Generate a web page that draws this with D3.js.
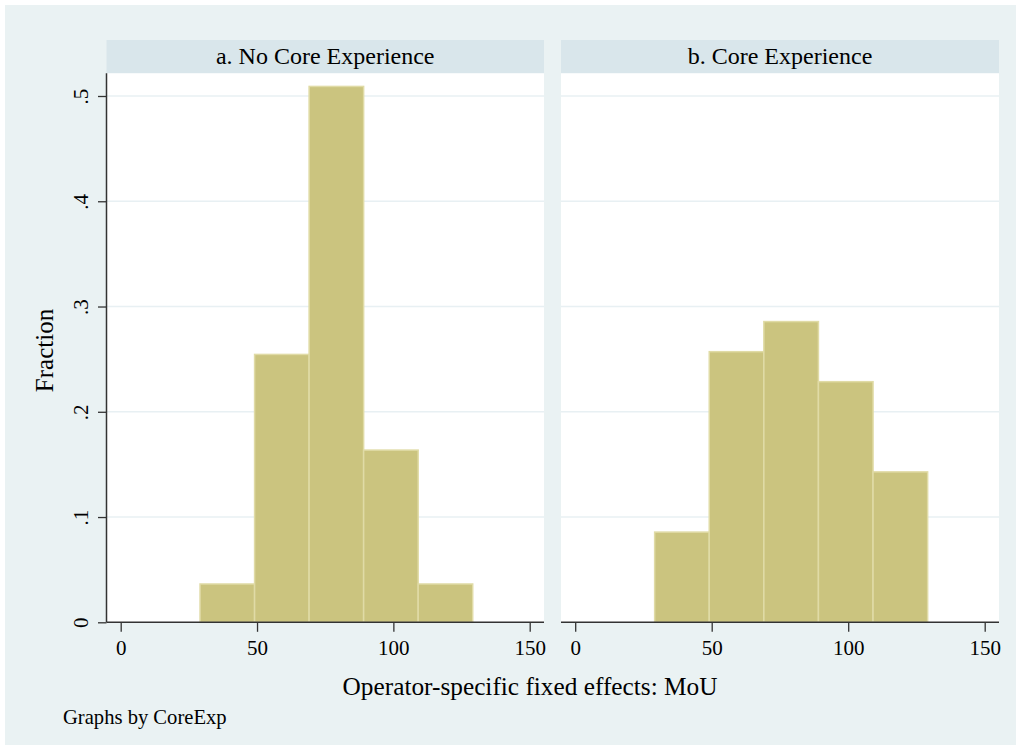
<!DOCTYPE html>
<html>
<head>
<meta charset="utf-8">
<script src="https://cdn.jsdelivr.net/npm/d3@7"></script>
<style>
  body { margin: 0; background: #fff; }
  text { font-family: 'Liberation Serif', 'Times New Roman', serif; fill: #000; }
</style>
</head>
<body>
<svg id="chart" width="1021" height="750"></svg>
<script>
// histogram bins (operator-specific fixed effects: MoU)
const binEdges = [29.1, 49.1, 69.1, 89.1, 109.1, 129.1];
const panelTitles = ['a. No Core Experience', 'b. Core Experience'];
const noCoreFractions = [0.0364, 0.2545, 0.5091, 0.1636, 0.0364];
const coreFractions = [0.0857, 0.2571, 0.2857, 0.2286, 0.1429];
const xTicks = [0, 50, 100, 150];
const yTicks = [0, 0.1, 0.2, 0.3, 0.4, 0.5];
const yTickLabels = ['0', '.1', '.2', '.3', '.4', '.5'];

const width = 1021;
const height = 750;
const barFill = '#cbc47f';
const barStroke = '#e0dba6';

const svg = d3.select('#chart');

// outer graph region
svg
  .append('rect')
  .attr('x', 5)
  .attr('y', 5)
  .attr('width', width - 10)
  .attr('height', height - 10)
  .attr('fill', '#eaf2f3');

const panels = [
  { x0: 106.5, x1: 544, title: panelTitles[0], values: noCoreFractions, yAxis: true },
  { x0: 561, x1: 999, title: panelTitles[1], values: coreFractions, yAxis: false },
];

const headerTop = 40;
const plotTop = 73.3;
const plotBottom = 622.3;

const y = d3.scaleLinear().domain([0, 0.5]).range([plotBottom, 96]);

panels.forEach((p) => {
  const x = d3
    .scaleLinear()
    .domain([0, 150])
    .range([p.x0 + 14.2, p.x1 - 14.3]);

  const g = svg.append('g');

  // header strip
  g.append('rect')
    .attr('x', p.x0)
    .attr('y', headerTop)
    .attr('width', p.x1 - p.x0)
    .attr('height', plotTop - headerTop)
    .attr('fill', '#d9e6eb');

  g.append('text')
    .attr('x', (p.x0 + p.x1) / 2)
    .attr('y', 64)
    .attr('text-anchor', 'middle')
    .style('font-size', '24px')
    .text(p.title);

  // plot region
  g.append('rect')
    .attr('x', p.x0)
    .attr('y', plotTop)
    .attr('width', p.x1 - p.x0)
    .attr('height', plotBottom - plotTop)
    .attr('fill', '#fff');

  // grid
  g.append('g')
    .selectAll('line')
    .data(yTicks.slice(1))
    .join('line')
    .attr('x1', p.x0)
    .attr('x2', p.x1)
    .attr('y1', (d) => y(d))
    .attr('y2', (d) => y(d))
    .attr('stroke', '#e8f0f3')
    .attr('stroke-width', 1.5);

  // bars
  g.append('g')
    .selectAll('rect')
    .data(p.values)
    .join('rect')
    .attr('x', (d, i) => x(binEdges[i]))
    .attr('width', (d, i) => x(binEdges[i + 1]) - x(binEdges[i]))
    .attr('y', (d) => y(d))
    .attr('height', (d) => y(0) - y(d))
    .attr('fill', barFill)
    .attr('stroke', barStroke)
    .attr('stroke-width', 1.5);

  // x axis
  const xAxis = g
    .append('g')
    .attr('transform', `translate(0,${plotBottom})`)
    .call(d3.axisBottom(x).tickValues(xTicks).tickSize(9.5).tickPadding(8));
  xAxis.select('.domain').remove();
  xAxis.selectAll('line').attr('stroke', '#333').attr('stroke-width', 1.3);
  xAxis.selectAll('text').style('font-size', '21px').attr('fill', '#000');

  g.append('line')
    .attr('x1', p.x0)
    .attr('x2', p.x1)
    .attr('y1', plotBottom)
    .attr('y2', plotBottom)
    .attr('stroke', '#333')
    .attr('stroke-width', 1.5);

  if (p.yAxis) {
    const yAxis = g
      .append('g')
      .attr('transform', `translate(${p.x0},0)`)
      .call(
        d3
          .axisLeft(y)
          .tickValues(yTicks)
          .tickFormat((d, i) => yTickLabels[i])
          .tickSize(8.5)
      );
    yAxis.select('.domain').remove();
    yAxis.selectAll('line').attr('stroke', '#333').attr('stroke-width', 1.3);
    yAxis
      .selectAll('text')
      .attr('transform', 'rotate(-90)')
      .attr('x', 0)
      .attr('y', -18.5)
      .attr('dy', 0)
      .attr('text-anchor', 'middle')
      .attr('fill', '#000')
      .style('font-size', '21px');

    g.append('line')
      .attr('x1', p.x0)
      .attr('x2', p.x0)
      .attr('y1', plotTop)
      .attr('y2', plotBottom)
      .attr('stroke', '#333')
      .attr('stroke-width', 1.5);
  }
});

// axis titles and note
svg
  .append('text')
  .attr('transform', 'translate(53,350.5) rotate(-90)')
  .attr('text-anchor', 'middle')
  .style('font-size', '25px')
  .text('Fraction');

svg
  .append('text')
  .attr('x', 530)
  .attr('y', 695)
  .attr('text-anchor', 'middle')
  .style('font-size', '25.3px')
  .text('Operator-specific fixed effects: MoU');

svg
  .append('text')
  .attr('x', 63)
  .attr('y', 724)
  .style('font-size', '20.6px')
  .text('Graphs by CoreExp');
</script>
</body>
</html>
